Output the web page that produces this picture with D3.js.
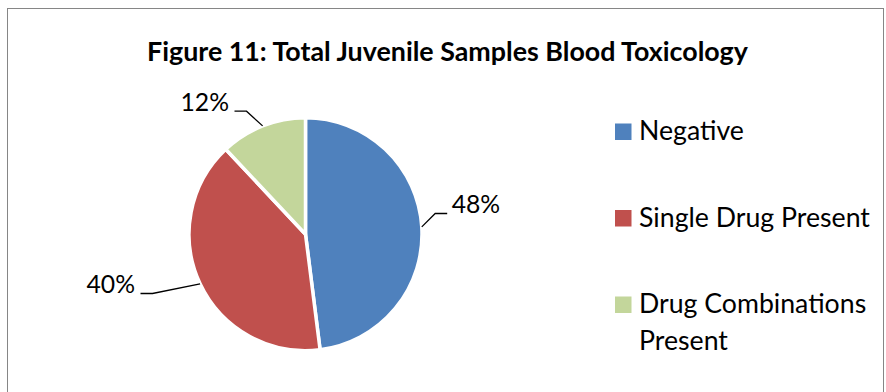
<!DOCTYPE html>
<html><head><meta charset="utf-8">
<script src="https://cdn.jsdelivr.net/npm/d3@7"></script>
<style>body{margin:0;background:#fff}svg{display:block}</style>
</head><body>
<svg id="c" width="886" height="392"></svg>
<script>
const categories = ["Negative", "Single Drug Present", "Drug Combinations Present"];
const legendLines = [["Negative"], ["Single Drug Present"], ["Drug Combinations", "Present"]];
const values = [48, 40, 12];
const valueLabels = ["48%", "40%", "12%"];
const colors = ["#4F81BD", "#C0504D", "#C3D69B"];
const title = "Figure 11: Total Juvenile Samples Blood Toxicology";

const FONT = "Lato, 'Open Sans', sans-serif";
const svg = d3.select("#c");

// frame
svg.append("rect").attr("x", 7.5).attr("y", 8.5).attr("width", 876).attr("height", 400)
  .attr("fill", "#fff").attr("stroke", "#868686").attr("stroke-width", 1);

function fit(sel, target, base) {
  sel.style("font-size", base + "px");
  const w = sel.node().getComputedTextLength();
  const s = base * target / w;
  sel.style("font-size", s + "px");
  return s;
}

// title
const t = svg.append("text").attr("x", 447.5).attr("y", 61).attr("text-anchor", "middle")
  .style("font-family", FONT).style("font-weight", "bold").style("fill", "#000").text(title);
fit(t, 601, 22);

// pie
const cx = 305.5, cy = 234.2, r = 116.5;
const pie = d3.pie().sort(null).value(d => d).startAngle(0).endAngle(2 * Math.PI);
const arcs = pie(values);
const arc = d3.arc().innerRadius(0).outerRadius(r);
const g = svg.append("g").attr("transform", `translate(${cx},${cy})`);
g.selectAll("path").data(arcs).join("path")
  .attr("d", arc).attr("fill", (d, i) => colors[i])
  .attr("stroke", "#fff").attr("stroke-width", 3.5).attr("stroke-linejoin", "round");

// data labels with leader lines
const labelPos = [
  {x: 451.7, y: 213, anchor: "start", side: 1},
  {x: 135,   y: 293, anchor: "end",   side: -1},
  {x: 229,   y: 110.7, anchor: "end", side: -1}
];
let labelSize = null;
arcs.forEach((d, i) => {
  const p = labelPos[i];
  const txt = svg.append("text").attr("x", p.x).attr("y", p.y).attr("text-anchor", p.anchor)
    .style("font-family", FONT).style("fill", "#000").text(valueLabels[i]);
  if (labelSize === null) labelSize = fit(txt, 48.5, 24);
  else txt.style("font-size", labelSize + "px");
  const mid = (d.startAngle + d.endAngle) / 2;
  const ex = cx + r * Math.sin(mid), ey = cy - r * Math.cos(mid);
  const gap = p.side > 0 ? -4.5 : 5.5;
  const endX = p.x + gap;
  const elbowX = endX + (p.side > 0 ? -12 : 12);
  const ly = p.y + 0.5;
  svg.append("polyline")
    .attr("points", [[endX, ly], [elbowX, ly], [ex, ey]].map(q => q.join(",")).join(" "))
    .attr("fill", "none").attr("stroke", "#000").attr("stroke-width", 1.3);
});

// legend
const legY = [140, 226.5, 313];
const lg = svg.append("g");
let legSize = null;
// fit using longest single line
const probe = lg.append("text").style("font-family", FONT).text("Single Drug Present");
legSize = fit(probe, 231, 24);
probe.remove();
categories.forEach((c, i) => {
  lg.append("rect").attr("x", 615).attr("y", legY[i] - 16.5).attr("width", 16.5).attr("height", 16.5)
    .attr("fill", colors[i]);
  legendLines[i].forEach((line, j) => {
    lg.append("text").attr("x", 639).attr("y", legY[i] + j * 37)
      .style("font-family", FONT).style("font-size", legSize + "px").style("fill", "#000").text(line);
  });
});
</script>
</body></html>
